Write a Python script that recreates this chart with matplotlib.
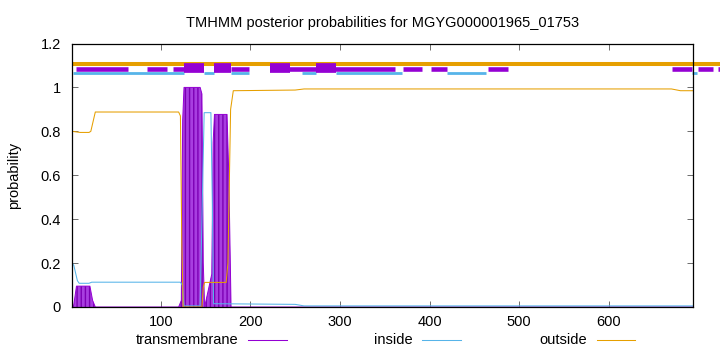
import matplotlib
matplotlib.use("Agg")
import matplotlib.pyplot as plt
from matplotlib.lines import Line2D

plt.rcParams['font.family'] = ['Liberation Sans', 'DejaVu Sans']
plt.rcParams['font.size'] = 10.5

title = "TMHMM posterior probabilities for MGYG000001965_01753"
seq_len = 694

# posterior curves (residue, probability)
tm_x = [1, 3, 6, 21, 24, 27, 120, 123, 124.5, 126, 144, 146, 147.5, 149,
        157, 158.5, 160, 174, 176, 178.5, 200, 694]
tm_y = [0, 0.01, 0.095, 0.095, 0.03, 0, 0, 0.03, 0.85, 1.0, 1.0, 0.97, 0.2, 0,
        0.15, 0.75, 0.877, 0.877, 0.6, 0, 0, 0]

in_x = [1, 3, 7, 9, 20, 23, 122, 124, 126, 144, 146.5, 148.5, 156, 157.5, 159,
        250, 260, 694]
in_y = [0.2, 0.19, 0.12, 0.108, 0.108, 0.113, 0.113, 0.1, 0.005, 0.005, 0.5,
        0.885, 0.885, 0.5, 0.015, 0.012, 0.005, 0.005]

out_x = [1, 10, 20, 22, 27, 120, 122, 123.5, 125, 146, 147.5, 149, 173, 175,
         178, 181, 250, 260, 670, 680, 694]
out_y = [0.80, 0.795, 0.795, 0.80, 0.888, 0.888, 0.87, 0.3, 0.0, 0.0, 0.09,
         0.112, 0.112, 0.2, 0.9, 0.985, 0.988, 0.993, 0.993, 0.985, 0.985]

# topology band at the top (start, end)
band_outside = [(1, 724)]
band_tm_thin = [(5, 64), (85, 107), (113.5, 125.5), (178.7, 199), (221.5, 361),
                (370, 392), (402, 419.5), (465, 487), (670.6, 693.4),
                (699.7, 716.4), (722, 724)]
band_tm_thick = [(125.5, 148), (160, 178.7), (221.5, 244), (273.6, 296)]
band_inside = [(1.6, 125.5), (148, 160), (178.7, 198), (258, 273.6),
               (296, 369), (419.5, 463), (693, 698)]

purple = '#9400D3'
blue = '#56B4E9'
orange = '#E69F00'

fig = plt.figure(figsize=(7.2, 3.52), dpi=100)
ax = fig.add_axes([72/720, 1 - 307/352, (693 - 72)/720, (307 - 43.5)/352])

ax.fill_between(tm_x, tm_y, 0, facecolor='#a83ee0', edgecolor='#7c00b4',
                hatch='||||', linewidth=0)
ax.plot(tm_x, tm_y, color=purple, lw=0.7)
ax.plot(in_x, in_y, color=blue, lw=0.75)
ax.plot(out_x, out_y, color=orange, lw=0.75)

for a, b in band_inside:
    ax.plot([a, b], [1.067, 1.067], color=blue, lw=2.0, solid_capstyle='butt', clip_on=False)
for a, b in band_outside:
    ax.plot([a, b], [1.106, 1.106], color=orange, lw=2.9, solid_capstyle='butt', clip_on=False)
for a, b in band_tm_thin:
    ax.plot([a, b], [1.086, 1.086], color=purple, lw=3.3, solid_capstyle='butt', clip_on=False)
for a, b in band_tm_thick:
    ax.plot([a, b], [1.087, 1.087], color=purple, lw=7.0, solid_capstyle='butt', clip_on=False)

ax.set_xlim(1, seq_len)
ax.set_ylim(0, 1.2)
ax.set_xticks([100, 200, 300, 400, 500, 600])
ax.set_yticks([0, 0.2, 0.4, 0.6, 0.8, 1, 1.2])
ax.set_yticklabels(['0', '0.2', '0.4', '0.6', '0.8', '1', '1.2'])
ax.tick_params(direction='in', length=4, width=0.6, color='#555555',
               top=True, right=True, labelsize=10.5)
ax.tick_params(axis='y', pad=8)
ax.tick_params(axis='x', pad=6)
for s in ax.spines.values():
    s.set_linewidth(0.9)
ax.set_ylabel('probability', fontsize=10.5, labelpad=14)
ax.set_title(title, fontsize=10.5, pad=12)

# legend row below the axis, gnuplot style: text then sample line
legend_items = [('transmembrane', purple, 238, 248, 287),
                ('inside', blue, 413, 422, 461),
                ('outside', orange, 587, 597, 635)]
for label, col, tx, l0, l1 in legend_items:
    fig.text(tx/720, 1 - 340/352, label, ha='right', va='center', fontsize=10.5)
    fig.add_artist(Line2D([l0/720, l1/720], [1 - 340/352, 1 - 340/352],
                          color=col, lw=0.75))

fig.savefig('out.png', dpi=100)
